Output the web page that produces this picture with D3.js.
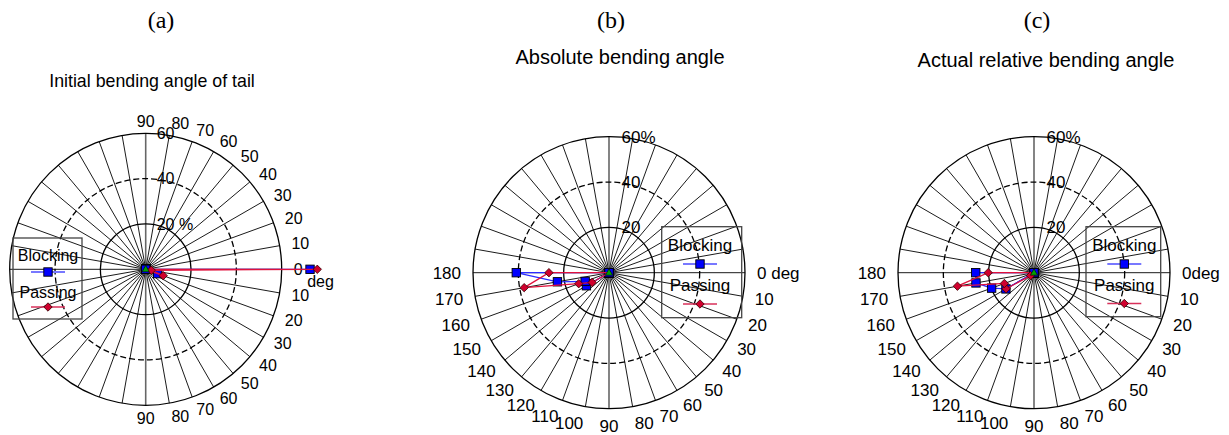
<!DOCTYPE html>
<html>
<head>
<meta charset="utf-8">
<script src="https://cdn.jsdelivr.net/npm/d3@7"></script>
<style>
body { margin: 0; background: #fff; }
svg { display: block; }
text { font-family: Arial, "Liberation Sans", sans-serif; fill: #000; }
</style>
</head>
<body>
<svg id="chart" width="1229" height="435"></svg>
<script>
// (a) angles: positive = upward (counter-clockwise) from 0 deg
var anglesA = [90, 80, 70, 60, 50, 40, 30, 20, 10, 0, -10, -20, -30, -40, -50, -60, -70, -80, -90];
var tickLabelsA = ["90", "80", "70", "60", "50", "40", "30", "20", "10", "0", "10", "20", "30", "40", "50", "60", "70", "80", "90"];
var blockingA = [0, 0, 0, 0, 0, 0, 0, 0, 0, 72.5, 0, 5.6, 0, 0, 0, 0, 0, 0, 0];
var passingA = [0, 0, 0, 0, 0, 0, 0, 0, 0, 75.7, 2.5, 8.2, 0, 0, 0, 0, 0, 0, 0];

// (b), (c) angles: positive = downward (clockwise) from 0 deg
var anglesBC = [0, 10, 20, 30, 40, 50, 60, 70, 80, 90, 100, 110, 120, 130, 140, 150, 160, 170, 180];
var tickLabelsB = ["0 deg", "10", "20", "30", "40", "50", "60", "70", "80", "90", "100", "110", "120", "130", "140", "150", "160", "170", "180"];
var tickLabelsC = ["0deg", "10", "20", "30", "40", "50", "60", "70", "80", "90", "100", "110", "120", "130", "140", "150", "160", "170", "180"];
var blockingB = [0, 0, 0, 0, 0, 0, 0, 0, 0, 0, 0, 0, 0, 0, 0, 11.5, 11.2, 23.1, 40.9];
var passingB = [0, 0, 0, 0, 0, 0, 0, 0, 0, 0, 0, 0, 0, 0, 0, 8.6, 14.2, 38, 26.5];
var blockingC = [0, 0, 0, 0, 0, 0, 0, 0, 0, 0, 0, 0, 0, 0, 0, 14.3, 19.9, 26, 25.7];
var passingC = [0, 0, 0, 0, 0, 0, 0, 0, 0, 0, 0, 0, 0, 0, 2, 14.2, 13.9, 34.3, 20.2];

var radialTicks = [20, 40, 60];
var radialLabelsA = ["20 %", "40", "60"];
var radialLabelsBC = ["20", "40", "60%"];
var seriesNames = ["Blocking", "Passing"];

var svg = d3.select("#chart");
var r = d3.scaleLinear().domain([0, 60]).range([0, 136]);
var spokes = d3.range(0, 360, 10);

var panels = [
    { cx: 145.7, cy: 269.3, dir: -1, angles: anglesA, ticks: tickLabelsA, rlabels: radialLabelsA,
      blocking: blockingA, passing: passingA, font: 16, extraY: 1,
      title: "(a)", titleX: 161, sub: "Initial bending angle of tail", subX: 152, subY: 81, subSize: 17.8,
      legend: { x0: 13, x1: 82, y0: 238, y1: 319, cx: 48, t1: 255, m1: 272, t2: 292, m2: 307 } },
    { cx: 609, cy: 272.7, dir: 1, angles: anglesBC, ticks: tickLabelsB, rlabels: radialLabelsBC,
      blocking: blockingB, passing: passingB, font: 17, extraY: 5,
      title: "(b)", titleX: 611, sub: "Absolute bending angle", subX: 620, subY: 57, subSize: 20,
      legend: { x0: 661.7, x1: 741.7, y0: 226.7, y1: 317.7, cx: 700, t1: 245, m1: 264, t2: 285, m2: 304 } },
    { cx: 1034, cy: 272.7, dir: 1, angles: anglesBC, ticks: tickLabelsC, rlabels: radialLabelsBC,
      blocking: blockingC, passing: passingC, font: 17, extraY: 5,
      title: "(c)", titleX: 1037, sub: "Actual relative bending angle", subX: 1046, subY: 59.5, subSize: 20,
      legend: { x0: 1086, x1: 1160.7, y0: 226.7, y1: 316.7, cx: 1124.3, t1: 245, m1: 264, t2: 285, m2: 303.5 } }
];

function rad(d) { return d * Math.PI / 180; }

function diamond(g, x, y) {
    g.append("path")
        .attr("d", "M0,-4.2L4.2,0L0,4.2L-4.2,0Z")
        .attr("transform", "translate(" + x + "," + y + ")")
        .attr("fill", "#d0002e").attr("stroke", "#300").attr("stroke-width", 0.8);
}

function square(g, x, y) {
    g.append("rect")
        .attr("x", x - 4.2).attr("y", y - 4.2).attr("width", 8.4).attr("height", 8.4)
        .attr("fill", "#0000ff").attr("stroke", "#000").attr("stroke-width", 0.9);
}

panels.forEach(function (p) {
    var g = svg.append("g").attr("transform", "translate(" + p.cx + "," + p.cy + ")");
    // screen angle for d3.lineRadial: 0 = up, clockwise
    var toA = function (deg) { return rad(90 + p.dir * deg); };

    // spokes
    g.selectAll(".spoke").data(spokes).enter().append("line")
        .attr("x1", 0).attr("y1", 0)
        .attr("x2", function (d) { return r(60) * Math.cos(rad(d)); })
        .attr("y2", function (d) { return r(60) * Math.sin(rad(d)); })
        .attr("stroke", function (d) { return (d === 90 || d === 270) ? "#666" : "#000"; })
        .attr("stroke-width", function (d) { return (d === 90 || d === 270) ? 1.6 : 0.9; });

    // rings
    g.selectAll(".ring").data(radialTicks).enter().append("circle")
        .attr("r", function (d) { return r(d); })
        .attr("fill", "none").attr("stroke", "#000").attr("stroke-width", 1.3)
        .attr("stroke-dasharray", function (d) { return d === 40 ? "6,3" : null; });

    // radial labels
    g.selectAll(".rl").data(radialTicks).enter().append("text")
        .attr("x", p.dir < 0 ? 11 : 12.5)
        .attr("y", function (d) { return -r(d); })
        .attr("dy", "0.35em")
        .attr("font-size", p.font)
        .text(function (d, i) { return p.rlabels[i]; });

    // angle labels
    var lr = 148;
    g.selectAll(".al").data(p.angles).enter().append("text")
        .attr("x", function (d) { return lr * Math.sin(toA(d)); })
        .attr("y", function (d) {
            var y = -lr * Math.cos(toA(d));
            return y + p.extraY * Math.max(0, -Math.cos(toA(d)));
        })
        .attr("dy", "0.35em")
        .attr("font-size", p.font)
        .attr("text-anchor", function (d) {
            var s = Math.sin(toA(d));
            return s > 0.1 ? "start" : (s < -0.1 ? "end" : "middle");
        })
        .text(function (d, i) { return p.ticks[i]; });
    if (p.dir < 0) {
        g.append("text").attr("x", 161.5).attr("y", 12).attr("dy", "0.35em")
            .attr("font-size", p.font).text("deg");
    }

    // data lines
    var line = d3.lineRadial()
        .angle(function (d) { return toA(d[0]); })
        .radius(function (d) { return r(d[1]); })
        .curve(d3.curveLinearClosed);
    var bData = p.angles.map(function (a, i) { return [a, p.blocking[i]]; });
    var pData = p.angles.map(function (a, i) { return [a, p.passing[i]]; });

    g.append("path").attr("d", line(bData))
        .attr("fill", "none").attr("stroke", "#2a2aff").attr("stroke-width", 1.3);
    bData.forEach(function (d) {
        square(g, r(d[1]) * Math.sin(toA(d[0])), -r(d[1]) * Math.cos(toA(d[0])));
    });
    g.append("path").attr("d", line(pData))
        .attr("fill", "none").attr("stroke", "#e0103c").attr("stroke-width", 1.3);
    pData.forEach(function (d) {
        if (d[1] > 0) diamond(g, r(d[1]) * Math.sin(toA(d[0])), -r(d[1]) * Math.cos(toA(d[0])));
    });
    g.append("path").attr("d", "M0,-4L3.6,2.5L-3.6,2.5Z")
        .attr("fill", "#00a000").attr("stroke", "#000").attr("stroke-width", 0.6);

    // legend
    var L = p.legend;
    svg.append("rect")
        .attr("x", L.x0).attr("y", L.y0).attr("width", L.x1 - L.x0).attr("height", L.y1 - L.y0)
        .attr("fill", "none").attr("stroke", "#444").attr("stroke-width", 1.3);
    svg.append("text").attr("x", L.cx).attr("y", L.t1).attr("dy", "0.35em")
        .attr("text-anchor", "middle").attr("font-size", p.font).text(seriesNames[0]);
    svg.append("line").attr("x1", L.cx - 17).attr("x2", L.cx + 17).attr("y1", L.m1).attr("y2", L.m1)
        .attr("stroke", "#7878ff").attr("stroke-width", 2);
    square(svg, L.cx, L.m1);
    svg.append("text").attr("x", L.cx).attr("y", L.t2).attr("dy", "0.35em")
        .attr("text-anchor", "middle").attr("font-size", p.font).text(seriesNames[1]);
    svg.append("line").attr("x1", L.cx - 17).attr("x2", L.cx + 17).attr("y1", L.m2).attr("y2", L.m2)
        .attr("stroke", "#d8305a").attr("stroke-width", 1.5);
    diamond(svg, L.cx, L.m2);

    // titles
    svg.append("text").attr("x", p.titleX).attr("y", 20).attr("dy", "0.35em")
        .attr("text-anchor", "middle").attr("font-size", 24)
        .style("font-family", "'Times New Roman', 'Liberation Serif', serif")
        .text(p.title);
    svg.append("text").attr("x", p.subX).attr("y", p.subY).attr("dy", "0.35em")
        .attr("text-anchor", "middle").attr("font-size", p.subSize)
        .text(p.sub);
});
</script>
</body>
</html>
